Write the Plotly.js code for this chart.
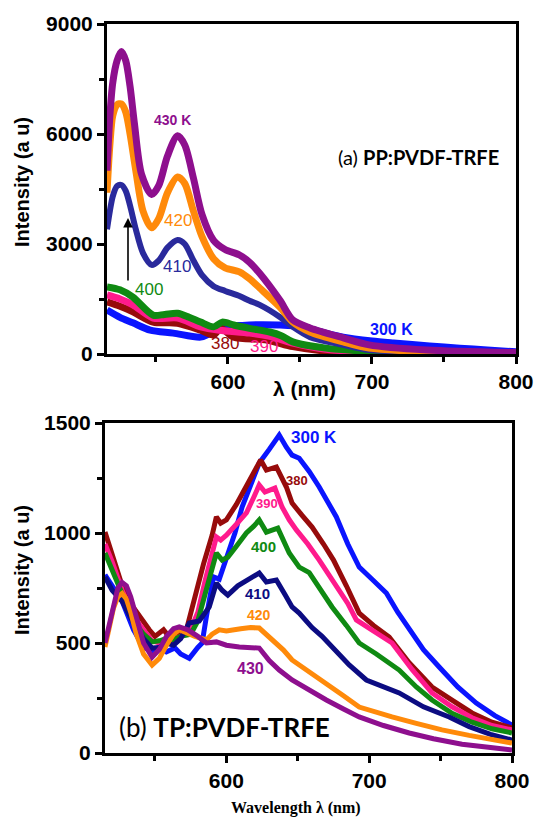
<!DOCTYPE html>
<html><head><meta charset="utf-8">
<script src="https://cdn.plot.ly/plotly-3.0.1.min.js"></script>
<style>body{margin:0;padding:0;background:#fff}#chart{width:536px;height:818px}</style>
</head><body><div id="chart"></div>
<script>
// ---------- Panel (a) PP:PVDF-TRFE ----------
const a300_x = [516,525,534,546,562,581,588,599,610,622,635,652,665,680,700,715,740,761,780,800];
const a300_y = [1200,1000,850,650,570,460,570,740,780,800,790,740,600,460,355,300,220,160,110,60];
const a380_x = [516,525,534,548,565,581,590,595,604,627,645,668,700,750,800];
const a380_y = [1420,1300,1150,870,840,650,520,700,460,380,200,80,40,20,10];
const a390_x = [516,525,534,548,565,581,594,615,629,645,668,700,750,800];
const a390_y = [1610,1500,1340,980,980,740,650,570,480,300,130,50,25,15];
const a400_x = [516,525,534,548,556,565,573,581,590,596,604,615,629,637,645,668,700,750,800];
const a400_y = [1830,1750,1550,1060,1080,1110,1000,870,740,870,790,700,600,500,330,160,70,30,20];
const a410_x = [516,518,520,523,526,529,532,536,541,547,552,558,565,570,576,582,590,598,608,615,622,636,645,657,680,698,740,800];
const a410_y = [3400,3900,4300,4580,4610,4450,4050,3400,2750,2430,2550,2900,3110,3000,2550,2150,1850,1720,1580,1450,1340,1010,740,460,250,110,50,30];
const a420_x = [516,518,520,523,526,529,532,536,541,547,552,558,565,570,576,582,590,598,608,615,622,636,645,657,680,698,740,800];
const a420_y = [4400,5700,6500,6800,6820,6600,6000,5000,3900,3440,3700,4400,4830,4650,3900,3200,2600,2350,2240,2050,1800,1280,870,600,330,160,60,30];
const a430_x = [516,518,520,523,526,529,532,535,540,547,552,558,565,570,576,582,590,598,608,615,622,636,645,657,680,698,738,800];
const a430_y = [5000,6500,7400,8000,8250,8000,7300,6300,4900,4350,4600,5400,5950,5700,4800,3800,3100,2850,2700,2500,2200,1470,930,710,440,250,110,40];

// ---------- Panel (b) TP:PVDF-TRFE ----------
const b300_x = [515,520,527,535,542,548,553,558,564,568,574,580,583,586,588,591,595,600,606,611,617,623,630,637,642,646,651,658,665,671,677,685,693,702,712,720,728,738,749,762,775,788,800];
const b300_y = [810,760,690,560,480,465,482,460,477,450,430,480,500,620,700,800,790,880,1000,1118,1220,1318,1380,1445,1390,1354,1340,1280,1209,1140,1073,950,845,790,727,640,560,470,391,300,227,170,127];
const b380_x = [515,520,527,535,541,546,550,556,560,565,572,577,584,590,593,596,600,607,614,619,624,628,635,642,646,653,660,668,675,684,693,703,714,728,744,758,772,786,800];
const b380_y = [1004,900,760,660,604,560,530,560,527,545,560,695,860,990,1073,1045,1060,1130,1209,1270,1332,1286,1300,1209,1136,1080,1027,950,877,760,636,580,527,410,300,240,182,140,114];
const b390_x = [515,520,527,535,542,548,553,558,562,568,575,580,585,590,593,596,600,607,614,619,623,627,634,639,644,649,657,665,672,679,685,691,703,716,730,744,758,772,786,800];
const b390_y = [950,870,740,620,560,510,500,520,510,530,560,640,780,900,982,968,990,1040,1091,1160,1218,1186,1204,1118,1060,1014,950,877,810,741,680,605,555,500,380,273,210,160,125,105];
const b400_x = [515,520,527,535,542,548,553,558,563,568,575,580,585,590,593,597,601,607,614,619,623,628,636,644,651,658,667,674,684,693,705,721,733,744,758,772,786,800];
const b400_y = [909,830,720,600,540,505,510,520,515,530,540,600,720,840,909,877,890,940,1000,1030,1059,1004,1022,909,845,820,730,664,580,500,450,377,300,241,180,140,110,91];
const b410_x = [515,520,527,535,542,548,553,558,563,568,574,581,588,593,597,601,608,615,623,628,635,641,646,651,660,667,674,686,698,710,721,738,756,770,785,800];
const b410_y = [800,740,690,590,520,477,480,500,490,520,591,600,664,773,740,718,760,790,818,777,786,720,664,636,570,530,482,400,332,300,273,210,164,120,85,59];
const b420_x = [515,518,521,524,527,530,533,537,542,548,553,558,563,567,572,578,586,590,595,600,610,617,623,630,640,646,658,670,682,693,705,716,733,751,770,785,800];
const b420_y = [482,580,660,710,725,700,640,540,450,400,430,490,540,560,545,530,514,540,560,555,565,570,568,527,468,423,370,318,260,209,185,164,135,105,80,62,45];
const b430_x = [515,518,521,524,527,530,533,537,542,548,553,558,563,567,573,580,586,593,600,609,616,623,630,637,646,658,670,682,693,710,728,745,765,785,800];
const b430_y = [500,590,680,750,775,760,710,620,500,436,470,530,565,573,560,530,500,505,490,482,480,477,420,377,332,285,241,200,164,125,91,65,40,25,14];

const seriesColors = {
  s300: '#0a14ff', s380: '#970b0b', s390: '#ff1a8c', s400: '#0f8a12',
  s410a: '#2a2a9c', s410b: '#0c0c82', s420: '#ff8a0a', s430: '#8e0f8e'
};

function tr(x, y, color, axis, width, shape) {
  return {
    x: x, y: y, type: 'scatter', mode: 'lines',
    xaxis: axis === 1 ? 'x' : 'x2', yaxis: axis === 1 ? 'y' : 'y2',
    line: {color: color, width: width, shape: shape, smoothing: 0.8},
    hoverinfo: 'skip', showlegend: false
  };
}

const data = [
  tr(a300_x, a300_y, seriesColors.s300, 1, 7, 'spline'),
  tr(a380_x, a380_y, seriesColors.s380, 1, 7, 'spline'),
  tr(a390_x, a390_y, seriesColors.s390, 1, 7, 'spline'),
  tr(a400_x, a400_y, seriesColors.s400, 1, 7, 'spline'),
  tr(a410_x, a410_y, seriesColors.s410a, 1, 6, 'spline'),
  tr(a420_x, a420_y, seriesColors.s420, 1, 7, 'spline'),
  tr(a430_x, a430_y, seriesColors.s430, 1, 7, 'spline'),
  tr(b300_x, b300_y, seriesColors.s300, 2, 5, 'linear'),
  tr(b380_x, b380_y, seriesColors.s380, 2, 5, 'linear'),
  tr(b390_x, b390_y, seriesColors.s390, 2, 5, 'linear'),
  tr(b400_x, b400_y, seriesColors.s400, 2, 5, 'linear'),
  tr(b410_x, b410_y, seriesColors.s410b, 2, 5, 'linear'),
  tr(b420_x, b420_y, seriesColors.s420, 2, 5, 'linear'),
  tr(b430_x, b430_y, seriesColors.s430, 2, 5, 'linear')
];

const W = 536, H = 818;
const PX = v => v / W, PY = v => 1 - v / H;
const tickFont = {family: 'Liberation Sans, Arial, sans-serif', size: 21, color: '#000', weight: 'bold'};

function axisBase(range, dtick, minorDtick, domain) {
  return {
    range: range, domain: domain, dtick: dtick, tick0: 0,
    showgrid: false, zeroline: false, showline: true, linecolor: '#000', linewidth: 3,
    mirror: true, ticks: 'outside', ticklen: 7, tickwidth: 3, tickcolor: '#000',
    tickfont: tickFont, fixedrange: true,
    minor: {dtick: minorDtick, tick0: 0, ticks: 'outside', ticklen: 5, tickwidth: 3, tickcolor: '#000', showgrid: false}
  };
}

const ann = (x, y, text, color, size, bold, extra) => Object.assign({
  xref: 'paper', yref: 'paper', x: PX(x), y: PY(y), text: text, showarrow: false,
  xanchor: 'center', yanchor: 'middle',
  font: {family: 'Liberation Sans, Arial, sans-serif', size: size, color: color, weight: bold ? 'bold' : 'normal'}
}, extra || {});

const annotations = [
  ann(22, 182, 'Intensity (a u)', '#000', 20, true, {textangle: -90}),
  ann(22, 570, 'Intensity (a u)', '#000', 20, true, {textangle: -90}),
  ann(304, 388, 'λ (nm)', '#000', 21, true),
  ann(296, 808, 'Wavelength λ (nm)', '#000', 16, true, {font: {family: 'Liberation Serif, Times New Roman, serif', size: 16, color: '#000', weight: 'bold'}}),
  ann(418, 157, '(a) <b>PP:PVDF-TRFE</b>', '#000', 20, false, {font: {family: 'Lato, Open Sans, sans-serif', size: 20, color: '#000'}}),
  ann(224, 727, '(b) <b>TP:PVDF-TRFE</b>', '#000', 26, false, {font: {family: 'Lato, Open Sans, sans-serif', size: 26, color: '#000'}}),
  // panel (a) labels
  ann(172, 120, '430 K', seriesColors.s430, 14, true),
  ann(178, 220, '420', seriesColors.s420, 17, false),
  ann(177, 267, '410', seriesColors.s410a, 17, false),
  ann(149, 289, '400', seriesColors.s400, 17, false),
  ann(225, 344, '380', seriesColors.s380, 17, false),
  ann(264, 347, '390', seriesColors.s390, 17, false),
  ann(391, 329, '300 K', seriesColors.s300, 16, true),
  {xref: 'paper', yref: 'paper', x: PX(128), y: PY(218), text: '', showarrow: true,
   ax: 0, ay: 64, arrowhead: 2, arrowsize: 1.2, arrowwidth: 1.6, arrowcolor: '#000', standoff: 0},
  // panel (b) labels
  ann(314, 437, '300 K', seriesColors.s300, 17, true),
  ann(297, 480, '380', seriesColors.s380, 13, true),
  ann(267, 504, '390', seriesColors.s390, 13, true),
  ann(263, 546, '400', seriesColors.s400, 15, true),
  ann(257, 593, '410', seriesColors.s410b, 15, true),
  ann(259, 615, '420', seriesColors.s420, 14, true),
  ann(250, 668, '430', seriesColors.s430, 16, true)
];

const layout = {
  width: W, height: H, margin: {l: 0, r: 0, t: 0, b: 0, pad: 0},
  paper_bgcolor: '#fff', plot_bgcolor: '#fff', showlegend: false,
  xaxis: Object.assign(axisBase([516, 800], 100, 50, [PX(107), PX(516)]), {anchor: 'y'}),
  yaxis: Object.assign(axisBase([0, 9000], 3000, 1500, [PY(354), PY(24)]), {anchor: 'x'}),
  xaxis2: Object.assign(axisBase([515, 800], 100, 50, [PX(105), PX(512)]), {anchor: 'y2'}),
  yaxis2: Object.assign(axisBase([0, 1500], 500, 250, [PY(753), PY(423)]), {anchor: 'x2'}),
  annotations: annotations
};

Plotly.newPlot('chart', data, layout, {staticPlot: true, displayModeBar: false});
</script>
</body></html>
